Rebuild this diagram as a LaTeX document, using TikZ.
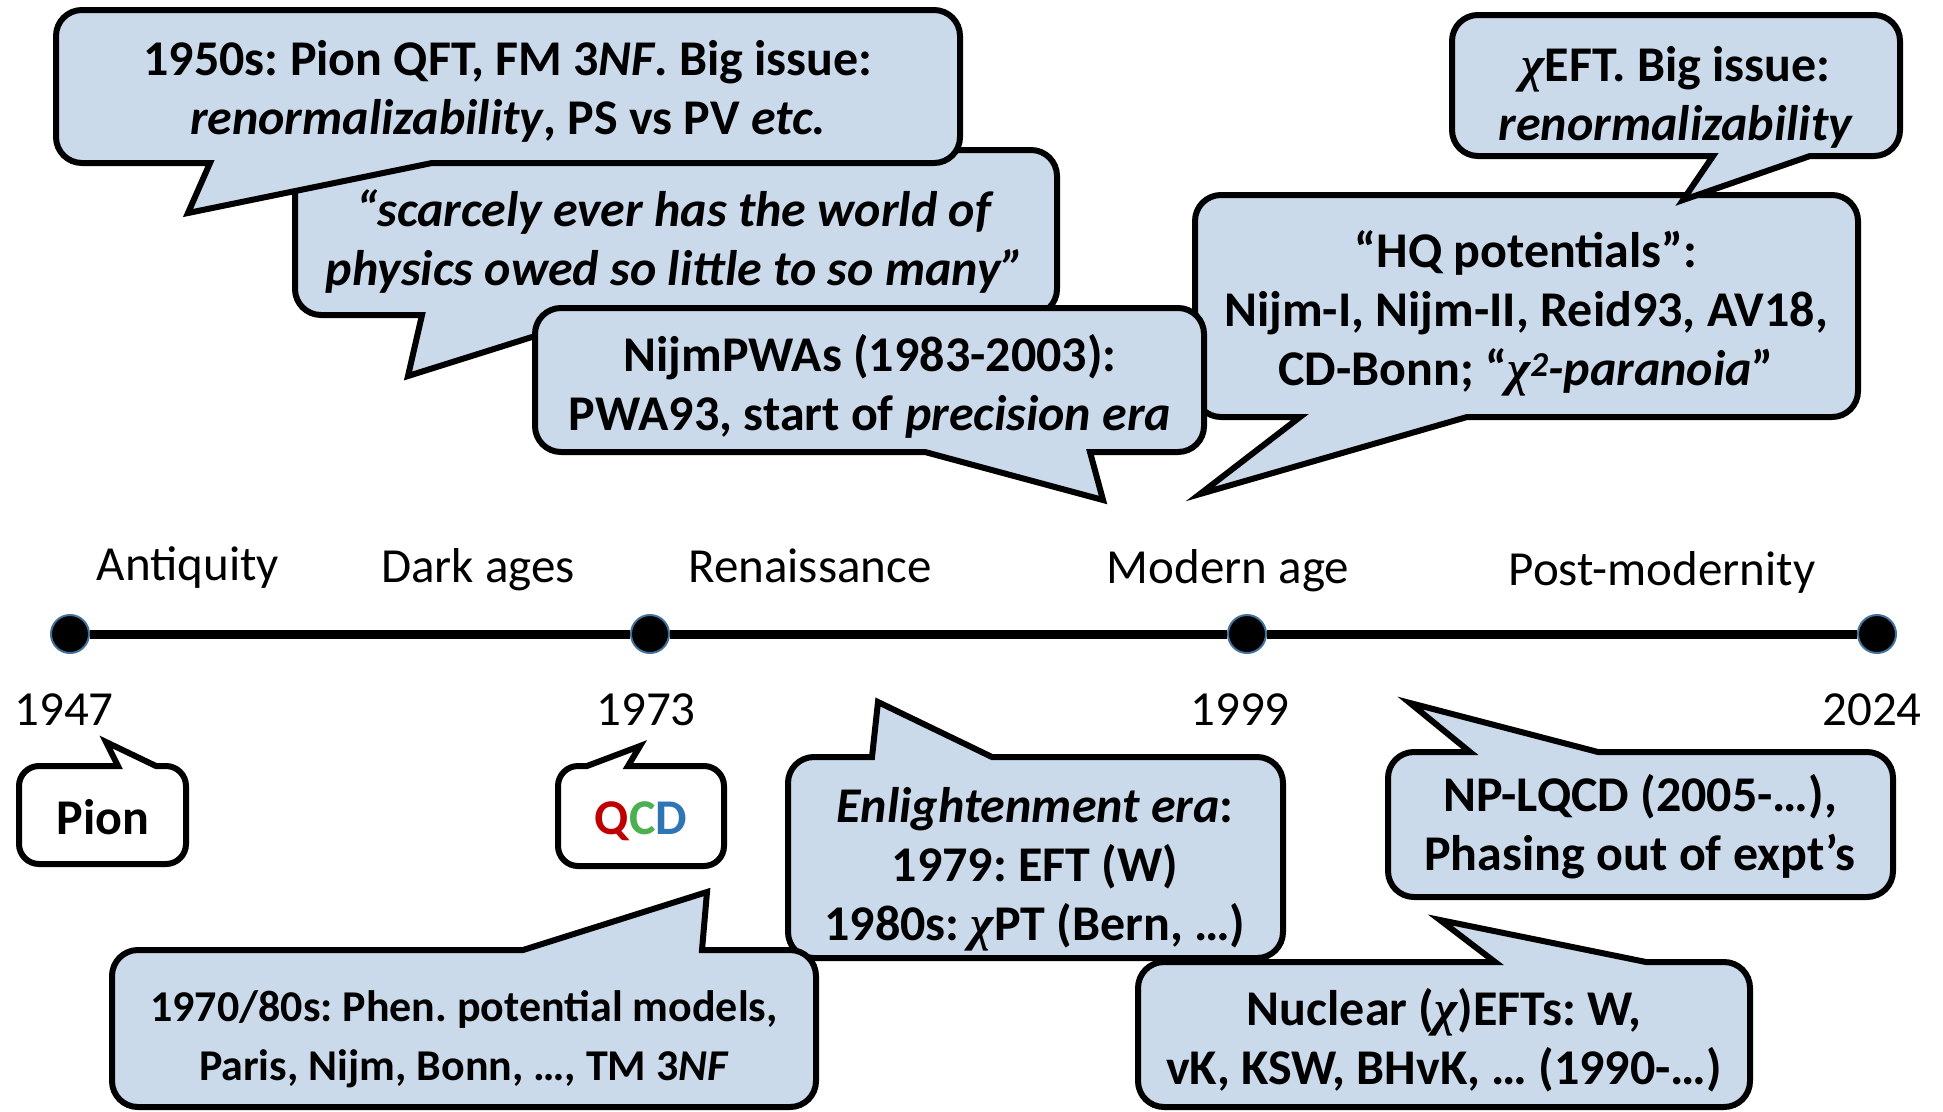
\documentclass[tikz,border=0pt]{standalone}
\usepackage{fontspec}
\setmainfont{Carlito}
\newfontfamily\chifont{Liberation Serif}
\newcommand\chiq{{\chifont\itshape χ}}
\frenchspacing
\definecolor{bub}{RGB}{202,218,235}
\definecolor{dotline}{RGB}{65,113,156}
\definecolor{qred}{RGB}{192,0,0}
\definecolor{qgreen}{RGB}{76,175,80}
\definecolor{qblue}{RGB}{46,117,182}
\tikzset{
 bubble/.style={draw=black, fill=bub, line width=6pt, line join=miter},
 wbubble/.style={draw=black, fill=white, line width=6pt, line join=miter},
 btext/.style={inner sep=0pt, align=center, font=\frenchspacing\bfseries\fontsize{50}{59}\selectfont},
 btextsmall/.style={btext, font=\frenchspacing\bfseries\fontsize{44}{59}\selectfont},
 lab/.style={inner sep=0pt, anchor=base, font=\fontsize{49}{59}\selectfont},
 tdot/.style={circle, fill=black, draw=dotline, line width=2pt, minimum size=38pt, inner sep=0pt},
 tline/.style={line width=9pt},
}
% bubble with tail on the bottom edge: style, x0,y0,x1,y1, Lx, Tx,Ty, Rx
\newcommand\bubB[9]{%
 \path[#1] (#6,#5) -- (#7,#8) -- (#9,#5) -- ({#4-\br},#5)
  .. controls ({#4-\bc},#5) and (#4,{#5-\bc}) .. (#4,{#5-\br}) -- (#4,{#3+\br})
  .. controls (#4,{#3+\bc}) and ({#4-\bc},#3) .. ({#4-\br},#3) -- ({#2+\br},#3)
  .. controls ({#2+\bc},#3) and (#2,{#3+\bc}) .. (#2,{#3+\br}) -- (#2,{#5-\br})
  .. controls (#2,{#5-\bc}) and ({#2+\bc},#5) .. ({#2+\br},#5) -- cycle;}
% bubble with tail on the top edge
\newcommand\bubT[9]{%
 \path[#1] (#6,#3) -- (#7,#8) -- (#9,#3) -- ({#4-\br},#3)
  .. controls ({#4-\bc},#3) and (#4,{#3+\bc}) .. (#4,{#3+\br}) -- (#4,{#5-\br})
  .. controls (#4,{#5-\bc}) and ({#4-\bc},#5) .. ({#4-\br},#5) -- ({#2+\br},#5)
  .. controls ({#2+\bc},#5) and (#2,{#5-\bc}) .. (#2,{#5-\br}) -- (#2,{#3+\br})
  .. controls (#2,{#3+\bc}) and ({#2+\bc},#3) .. ({#2+\br},#3) -- cycle;}
\def\br{26}\def\bc{11.6}
\begin{document}
\begin{tikzpicture}[x=1pt,y=-1pt]
\useasboundingbox[fill=white] (0,0) rectangle (1943,1111);

% ---- timeline ----
\node[tdot] (d1) at (70,634) {};
\node[tdot] (d2) at (650,634) {};
\node[tdot] (d3) at (1247,634) {};
\node[tdot] (d4) at (1877,634) {};
\draw[tline] (d1) -- (d2);
\draw[tline] (d2) -- (d3);
\draw[tline] (d3) -- (d4);

\node[lab] (e1) at (188,580) {Antiquity};
\node[lab] (e2) at (478,582) {Dark ages};
\node[lab] (e3) at (810,582) {Renaissance};
\node[lab] (e4) at (1228,583) {Modern age};
\node[lab] (e5) at (1662,585) {Post-modernity};

\node[lab] (y1) at (64,725) {1947};
\node[lab] (y2) at (646,725) {1973};
\node[lab] (y3) at (1240,725) {1999};
\node[lab] (y4) at (1872,725) {2024};

% ---- upper bubbles ----
\bubB{bubble}{295}{150}{1057}{315}{422}{408}{376}{602}
\bubB{bubble}{1195}{195}{1858}{417}{1300}{1200}{494}{1467}
\bubB{bubble}{535}{308}{1204}{452}{925}{1103}{500}{1090}
\bubB{bubble}{56}{10}{960}{163}{210}{188}{213}{432}
\bubB{bubble}{1452}{15}{1900}{156}{1713}{1683}{200}{1810}

\node[btext] (b1) at (508,93) {\strut 1950s: Pion QFT, FM 3\textit{NF}. Big issue:\\ \strut\textit{renormalizability}, PS vs PV \textit{etc.}};
\node[btext] (b2) at (675,244) {\strut\textit{“scarcely ever has the world of}\\ \strut\textit{physics owed so little to so many”}};
\node[btext] (b5) at (1526,315) {\strut “HQ potentials”:\\ Nijm-I, Nijm-II, Reid93, AV18,\\ \strut CD-Bonn; “\chiq\textit{\textsuperscript{2}-paranoia}”};
\node[btext] (b3) at (870,389) {\strut NijmPWAs (1983-2003):\\ \strut PWA93, start of \textit{precision era}};
\node[btext] (b4) at (1676,99) {\strut\chiq EFT. Big issue:\\ \strut\textit{renormalizability}};

% ---- small white bubbles ----
\def\br{20}\def\bc{9}
\bubT{wbubble}{19}{766}{186}{864}{118}{106}{742}{156}
\bubT{wbubble}{558}{766}{724}{866}{587}{640}{746}{628}
\node[btext] (pion) at (103,823) {\strut Pion};
\node[btext] (qcd) at (641,823) {\strut\textcolor{qred}{Q}\textcolor{qgreen}{C}\textcolor{qblue}{D}};

% ---- lower bubbles ----
\def\br{26}\def\bc{11.6}
\bubT{bubble}{788}{757}{1283}{958}{872}{878}{702}{992}
\bubT{bubble}{112}{950}{816}{1107}{523}{707}{892}{702}
\bubT{bubble}{1388}{752}{1893}{897}{1470}{1410}{703}{1598}
\bubT{bubble}{1138}{962}{1750}{1107}{1495}{1440}{920}{1646}

\node[btext] (b6) at (1035,870) {\strut\textit{Enlightenment era}:\\ 1979: EFT (W)\\ \strut 1980s: \chiq PT (Bern, …)};
\node[btextsmall] (b7) at (464,1039) {\strut 1970/80s: Phen. potential models,\\ \strut Paris, Nijm, Bonn, …, TM 3\textit{NF}};
\node[btext] (b8) at (1640,829) {\strut NP-LQCD (2005-…),\\ \strut Phasing out of expt’s};
\node[btext] (b9) at (1444,1043) {\strut Nuclear (\chiq)EFTs: W,\\ \strut vK, KSW, BHvK, … (1990-…)};
\end{tikzpicture}
\end{document}
